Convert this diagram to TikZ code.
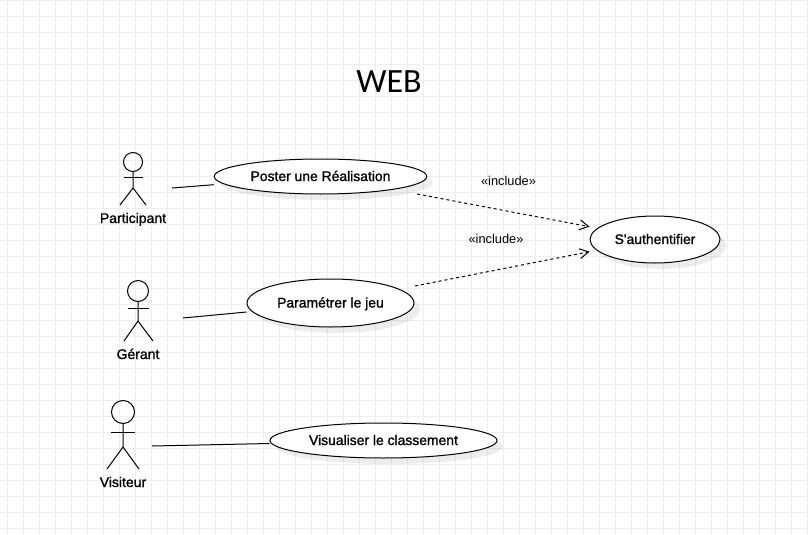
\documentclass[tikz,border=0pt]{standalone}
\usepackage{fontspec}
\setmainfont{Liberation Sans}
\newfontfamily\labelfont[FakeBold=1.2]{Liberation Sans}
\newfontfamily\titlefont{Carlito}
\usetikzlibrary{shapes.geometric,shadows,arrows.meta}
\definecolor{gridgray}{HTML}{EEEEEE}
\tikzset{
  usecase/.style={draw, ellipse, fill=white, line width=1pt, inner sep=0pt,
    text height=10pt, text depth=1pt,
    font=\labelfont\fontsize{13.9}{16}\selectfont,
    drop shadow={shadow xshift=6pt, shadow yshift=-6pt, fill=black, opacity=0.07}},
  actorhead/.style={draw, circle, line width=1pt, inner sep=0pt},
  actorlabel/.style={anchor=base, inner sep=0pt, font=\labelfont\fontsize{14}{16}\selectfont},
  includelabel/.style={anchor=base, inner sep=0pt, font=\fontsize{12.8}{15}\selectfont},
  assoc/.style={line width=1pt},
  include/.style={line width=1pt, dash pattern=on 3pt off 3pt, -{Straight Barb[length=9pt,width=10pt]}}
}
\begin{document}
\begin{tikzpicture}[x=1pt,y=-1pt]
    \useasboundingbox (0,0) rectangle (808,535);

    % Background grid
    \fill[white] (0,0) rectangle (808,535);
    \foreach \gx in {0,...,50} {
        \draw[gridgray, line width=1pt] ({7.5+16*\gx},0) -- ({7.5+16*\gx},535);
    }
    \foreach \gy in {0,...,33} {
        \draw[gridgray, line width=1pt] (0,{0.5+16*\gy}) -- (808,{0.5+16*\gy});
    }

    % Title
    \node[anchor=base, inner sep=0pt, font=\titlefont\fontsize{34}{38}\selectfont] (title) at (389,92.7) {WEB};

    % Actor - Participant
    \node[actorhead, minimum size=19pt] (parthead) at (133,162) {};
    \draw[line width=1pt] (parthead.south) -- (133,188) -- (120,205);
    \draw[line width=1pt] (133,188) -- (146,205);
    \draw[line width=1pt] (124,177) -- (143,177);
    \node[actorlabel] (partlabel) at (133,223) {Participant};

    % Actor - Gerant
    \node[actorhead, minimum size=21pt] (gerhead) at (138,291) {};
    \draw[line width=1pt] (gerhead.south) -- (138,321) -- (124,341);
    \draw[line width=1pt] (138,321) -- (153,341);
    \draw[line width=1pt] (128,308) -- (149,308);
    \node[actorlabel] (gerlabel) at (138,359) {Gérant};

    % Actor - Visiteur
    \node[actorhead, minimum size=23pt] (vishead) at (123,412) {};
    \draw[line width=1pt] (vishead.south) -- (123,447) -- (107,469);
    \draw[line width=1pt] (123,447) -- (139,469);
    \draw[line width=1pt] (111,432) -- (135,432);
    \node[actorlabel] (vislabel) at (123,487) {Visiteur};

    % Use cases
    \node[usecase, minimum width=212.5pt, minimum height=35pt] (poster) at (320.5,176.5) {Poster une Réalisation};
    \node[usecase, minimum width=167pt, minimum height=48pt] (param) at (330.5,303) {Paramétrer le jeu};
    \node[usecase, minimum width=130pt, minimum height=47pt] (auth) at (655,239.5) {S'authentifier};
    \node[usecase, minimum width=227pt, minimum height=35pt] (classement) at (383.5,440.5) {Visualiser le classement};

    % Free ends of the connectors
    \coordinate (partend) at (172,188);
    \coordinate (gerend) at (183,318);
    \coordinate (visend) at (152,446);
    \coordinate (posterend) at (417,194);
    \coordinate (paramend) at (415,286);

    % Associations
    \draw[assoc] (partend) -- ([yshift=-8.2pt]poster.west);
    \draw[assoc] (gerend) -- ([yshift=-9pt]param.west);
    \draw[assoc] (visend) -- ([yshift=-3pt]classement.west);

    % Include arrows and labels
    \draw[include] (posterend) -- ([yshift=12.8pt]auth.west);
    \draw[include] (paramend) -- ([yshift=-12.2pt]auth.west);
    \node[includelabel] (inctop) at (508.5,185) {«include»};
    \node[includelabel] (incbottom) at (496,243) {«include»};
\end{tikzpicture}
\end{document}
